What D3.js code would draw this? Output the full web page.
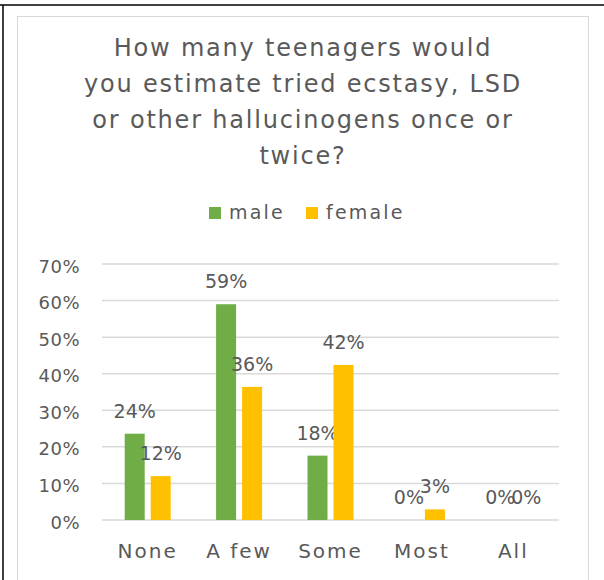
<!DOCTYPE html>
<html>
<head>
<meta charset="utf-8">
<script src="https://cdn.jsdelivr.net/npm/d3@7"></script>
<style>
  html, body { margin: 0; padding: 0; background: #fff; }
  svg { display: block; font-family: "Century Gothic", "DejaVu Sans", sans-serif; }
</style>
</head>
<body>
<svg id="chart" width="604" height="580"></svg>
<script>
const categories = ['None', 'A few', 'Some', 'Most', 'All'];
const series = ['male', 'female'];
const male = [0.236, 0.59, 0.176, 0, 0];
const female = [0.12, 0.364, 0.424, 0.029, 0];
const yTicks = [0, 0.1, 0.2, 0.3, 0.4, 0.5, 0.6, 0.7];
const titleLines = ['How many teenagers would', 'you estimate tried ecstasy, LSD', 'or other hallucinogens once or', 'twice?'];
const colors = { male: '#70ad47', female: '#ffc000' };

const values = { male, female };
const svg = d3.select('#chart');
const textColor = '#595959';

// page frame (table cell borders) and chart area border
svg.append('line').attr('x1', 0).attr('x2', 604).attr('y1', 5).attr('y2', 5)
    .attr('stroke', '#000').attr('stroke-width', 1.5);
svg.append('line').attr('x1', 3).attr('x2', 3).attr('y1', 5).attr('y2', 580)
    .attr('stroke', '#000').attr('stroke-width', 1.5);
svg.append('rect').attr('x', 17.5).attr('y', 16.5).attr('width', 571).attr('height', 600)
    .attr('fill', '#fff').attr('stroke', '#d9d9d9').attr('stroke-width', 1);

// title
svg.append('text')
    .attr('text-anchor', 'middle')
    .attr('fill', textColor).attr('font-size', 24).attr('letter-spacing', 1.8)
    .selectAll('tspan').data(titleLines).join('tspan')
    .attr('x', 303).attr('y', (d, i) => 56 + i * 36)
    .text(d => d);

// legend
const legend = svg.append('g');
const legendItems = [{ k: 'male', x: 209 }, { k: 'female', x: 306 }];
legendItems.forEach(it => {
    legend.append('rect').attr('x', it.x).attr('y', 207).attr('width', 12).attr('height', 12)
        .attr('fill', colors[it.k]);
    legend.append('text').attr('x', it.x + 20).attr('y', 219)
        .attr('fill', textColor).attr('font-size', 19).attr('letter-spacing', 2.2).text(it.k);
});

const plotL = 102, plotR = 559, plotT = 264, plotB = 520;
const y = d3.scaleLinear().domain([0, 0.7]).range([plotB, plotT]);
const x0 = d3.scaleBand().domain(categories).range([plotL, plotR]).padding(0);
const groupW = 46;
const x1 = d3.scaleBand().domain(series).range([0, groupW]).paddingInner(6 / 26);

const g = svg.append('g');

// grid
g.selectAll('.grid').data(yTicks).join('line')
    .attr('x1', plotL).attr('x2', plotR)
    .attr('y1', d => y(d)).attr('y2', d => y(d))
    .attr('stroke', '#d9d9d9').attr('stroke-width', 1.5);

// y axis labels
g.selectAll('.yl').data(yTicks).join('text')
    .attr('x', 80).attr('y', d => y(d) + 8.5)
    .attr('text-anchor', 'end').attr('fill', textColor).attr('font-size', 18)
    .attr('letter-spacing', 0.5)
    .text(d3.format('.0%'));

// x axis labels
g.selectAll('.xl').data(categories).join('text')
    .attr('x', d => x0(d) + x0.bandwidth() / 2).attr('y', 558)
    .attr('text-anchor', 'middle').attr('fill', textColor).attr('font-size', 20)
    .attr('letter-spacing', 2)
    .text(d => d);

// bars
const cats = g.selectAll('.cat').data(categories).join('g')
    .attr('transform', d => `translate(${x0(d) + (x0.bandwidth() - groupW) / 2},0)`);

const cells = cats.selectAll('.bar')
    .data((c, i) => series.map(s => ({ s, v: values[s][i] })))
    .join('g');

cells.append('rect')
    .attr('x', d => x1(d.s)).attr('width', x1.bandwidth())
    .attr('y', d => y(d.v)).attr('height', d => plotB - y(d.v))
    .attr('fill', d => colors[d.s]);

cells.append('text')
    .attr('x', d => x1(d.s) + x1.bandwidth() / 2)
    .attr('y', d => y(d.v) - 16)
    .attr('text-anchor', 'middle').attr('fill', textColor).attr('font-size', 19)
    .text(d => d3.format('.0%')(d.v));
</script>
</body>
</html>
